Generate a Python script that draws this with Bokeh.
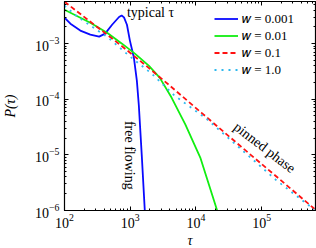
from bokeh.plotting import figure
from bokeh.models import (Range1d, FixedTicker, LogAxis, LogTickFormatter, CustomJSTickFormatter,
                          Legend, LegendItem, Label, Title)
from bokeh.embed import file_html
from bokeh.resources import INLINE
import math

# ---- data ----
tau_w0001 = [100, 123, 174, 247, 337, 415, 530, 676, 740, 804, 892, 989, 1137, 1262, 1353, 1500, 1667]
p_w0001 = [2.92e-3, 2.28e-3, 1.71e-3, 1.45e-3, 1.33e-3, 1.51e-3, 2.18e-3, 3.0e-3, 3.2e-3, 2.95e-3,
           2.18e-3, 1.13e-3, 5.6e-4, 2.16e-4, 7.7e-5, 9.7e-6, 1.0e-6]

tau_w001 = [100, 247, 445, 750, 1178, 1915, 2805, 4256, 6918, 11650, 21040]
p_w001 = [4.06e-3, 2.37e-3, 1.57e-3, 9.96e-4, 6.59e-4, 4.01e-4, 2.44e-4, 1.07e-4, 3.50e-5, 8.95e-6, 1.0e-6]

tau_w01 = [100, 700, 1667, 3837, 12050, 48400, 175000, 655000]
p_w01 = [5.65e-3, 9.55e-4, 4.18e-4, 1.83e-4, 5.74e-5, 1.41e-5, 3.91e-6, 1.04e-6]

tau_w1 = [100, 157, 461, 955, 2123, 4721, 14350, 169000, 632000]
p_w1 = [4.79e-3, 3.04e-3, 1.28e-3, 6.07e-4, 2.88e-4, 1.16e-4, 4.49e-5, 3.46e-6, 1.04e-6]

series_labels = ["𝑤 = 0.001", "𝑤 = 0.01", "𝑤 = 0.1", "𝑤 = 1.0"]
x_major = [1e2, 1e3, 1e4, 1e5]
y_major = [1e-6, 1e-5, 1e-4, 1e-3]
x_lim = (100, 6.6e5)
y_lim = (1e-6, 5.7e-3)

FONT = "Liberation Serif"

x_minor = [m * 10 ** e for e in range(2, 6) for m in range(2, 10)]
y_minor = [m * 10 ** e for e in range(-6, -2) for m in range(2, 10)]

p = figure(width=316, height=248, x_axis_type="log", y_axis_type="log",
           x_range=Range1d(*x_lim), y_range=Range1d(*y_lim),
           output_backend="svg", toolbar_location=None,
           min_border_left=62, min_border_right=1, min_border_top=1, min_border_bottom=38)
p.xgrid.visible = False
p.ygrid.visible = False
p.outline_line_color = "black"
p.outline_line_width = 1.2
p.background_fill_color = "white"
p.border_fill_color = "white"


def style_axis(ax, ticks, minors, labels=True):
    ax.ticker = FixedTicker(ticks=ticks, minor_ticks=minors)
    if labels:
        ax.formatter = LogTickFormatter()
    else:
        ax.formatter = CustomJSTickFormatter(code="return '';")
    ax.major_tick_in = 4
    ax.major_tick_out = 0
    ax.minor_tick_in = 2
    ax.minor_tick_out = 0
    ax.axis_line_color = "black"
    ax.major_tick_line_color = "black"
    ax.minor_tick_line_color = "black"
    ax.major_label_text_font = FONT
    ax.major_label_text_font_size = "14px"
    ax.major_label_text_color = "black"
    if not labels:
        ax.major_label_standoff = 0


xa = p.xaxis[0]
ya = p.yaxis[0]
style_axis(xa, x_major, x_minor)
style_axis(ya, y_major, y_minor)
xa.major_label_standoff = 3
ya.major_label_standoff = 5
ya.axis_label = "P(τ)"
ya.axis_label_text_font = FONT
ya.axis_label_text_font_style = "italic"
ya.axis_label_text_font_size = "14px"
ya.axis_label_text_color = "black"
ya.axis_label_standoff = 14

top = LogAxis()
style_axis(top, x_major, x_minor, labels=False)
right = LogAxis()
style_axis(right, y_major, y_minor, labels=False)
p.add_layout(top, "above")
p.add_layout(right, "right")

# x-axis title, as a title in the panel below the axis
p.add_layout(Title(text="τ", align="center", text_font=FONT, text_font_style="italic",
                   text_font_size="14px", text_color="black", standoff=0, offset=0),
             "below")

r1 = p.line(tau_w0001, p_w0001, line_color="#0a0aff", line_width=1.8)
r2 = p.line(tau_w001, p_w001, line_color="#11ee11", line_width=1.8)
r3 = p.line(tau_w01, p_w01, line_color="#ff1111", line_width=1.8, line_dash="5 3")
r4 = p.line(tau_w1, p_w1, line_color="#2eb8ee", line_width=1.8, line_dash="2 5")

legend = Legend(items=[LegendItem(label=l, renderers=[r]) for l, r in
                       zip(series_labels, [r1, r2, r3, r4])],
                location=(150, 132), glyph_width=24, glyph_height=17, label_height=17,
                label_standoff=4, spacing=0, padding=0, margin=0,
                border_line_color=None, background_fill_alpha=0,
                label_text_font=FONT, label_text_font_size="13px", label_text_color="black")
p.add_layout(legend, "center")

p.add_layout(Label(x=890, y=3.6e-3, text="typical τ", text_font=FONT, text_font_size="14px",
                   text_align="left", text_baseline="middle", text_color="black"))
p.add_layout(Label(x=990, y=9.8e-6, text="free flowing", text_font=FONT, text_font_size="14px",
                   text_align="center", text_baseline="middle", angle=-math.pi / 2,
                   text_color="black"))
p.add_layout(Label(x=1.11e5, y=1.35e-5, text="pinned phase", text_font=FONT, text_font_size="14px",
                   text_align="center", text_baseline="middle", angle=-math.radians(37.5),
                   text_color="black"))

open("out.html", "w").write(file_html(p, INLINE))
